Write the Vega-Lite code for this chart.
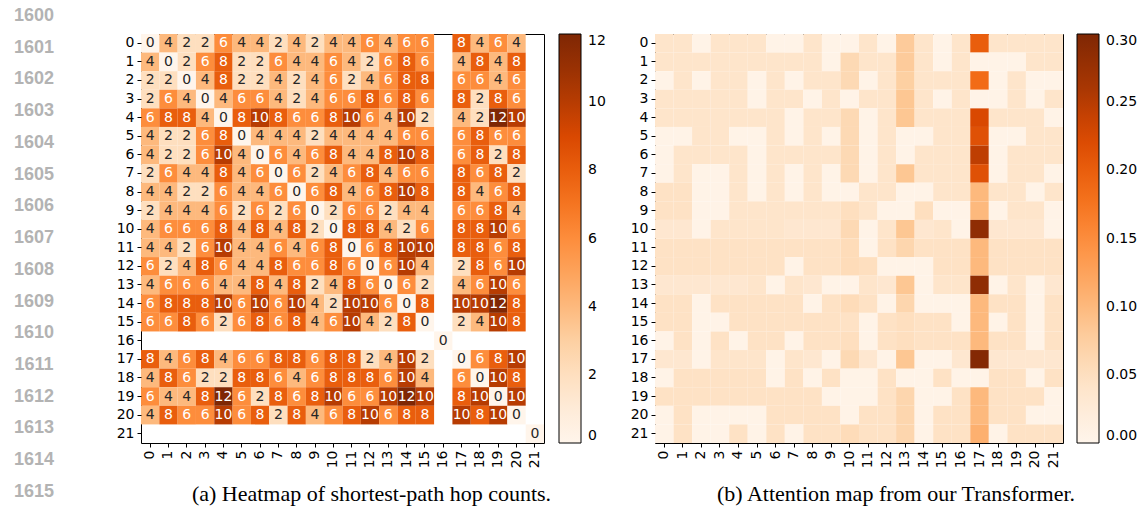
{
"$schema": "https://vega.github.io/schema/vega-lite/v6.json",
"background": "white",
"padding": {"left": 13, "top": 7, "right": 6, "bottom": 4},
"autosize": {"type": "pad"},
"config": {
  "font": "DejaVu Sans",
  "view": {"stroke": "black", "strokeWidth": 1},
  "axis": {"domain": false, "grid": false, "ticks": true, "tickColor": "black", "tickSize": 4, "labelFontSize": 14, "labelColor": "black", "labelFont": "DejaVu Sans", "labelPadding": 3, "title": null}
},
"spacing": 111,
"bounds": "flush",
"resolve": {"scale": {"color": "independent"}},
"datasets": {
"lines": [{"n":1600,"p":1.5},{"n":1601,"p":1.5},{"n":1602,"p":1.5},{"n":1603,"p":1.5},{"n":1604,"p":1.5},{"n":1605,"p":1.5},{"n":1606,"p":1.5},{"n":1607,"p":1.5},{"n":1608,"p":1.5},{"n":1609,"p":1.5},{"n":1610,"p":1.5},{"n":1611,"p":1.5},{"n":1612,"p":1.5},{"n":1613,"p":1.5},{"n":1614,"p":1.5},{"n":1615,"p":1.5}],
"hop": [
{"r":0,"c":0,"v":0},{"r":0,"c":1,"v":4},{"r":0,"c":2,"v":2},{"r":0,"c":3,"v":2},{"r":0,"c":4,"v":6},{"r":0,"c":5,"v":4},{"r":0,"c":6,"v":4},{"r":0,"c":7,"v":2},{"r":0,"c":8,"v":4},{"r":0,"c":9,"v":2},{"r":0,"c":10,"v":4},{"r":0,"c":11,"v":4},{"r":0,"c":12,"v":6},{"r":0,"c":13,"v":4},{"r":0,"c":14,"v":6},{"r":0,"c":15,"v":6},{"r":0,"c":17,"v":8},{"r":0,"c":18,"v":4},{"r":0,"c":19,"v":6},{"r":0,"c":20,"v":4},
{"r":1,"c":0,"v":4},{"r":1,"c":1,"v":0},{"r":1,"c":2,"v":2},{"r":1,"c":3,"v":6},{"r":1,"c":4,"v":8},{"r":1,"c":5,"v":2},{"r":1,"c":6,"v":2},{"r":1,"c":7,"v":6},{"r":1,"c":8,"v":4},{"r":1,"c":9,"v":4},{"r":1,"c":10,"v":6},{"r":1,"c":11,"v":4},{"r":1,"c":12,"v":2},{"r":1,"c":13,"v":6},{"r":1,"c":14,"v":8},{"r":1,"c":15,"v":6},{"r":1,"c":17,"v":4},{"r":1,"c":18,"v":8},{"r":1,"c":19,"v":4},{"r":1,"c":20,"v":8},
{"r":2,"c":0,"v":2},{"r":2,"c":1,"v":2},{"r":2,"c":2,"v":0},{"r":2,"c":3,"v":4},{"r":2,"c":4,"v":8},{"r":2,"c":5,"v":2},{"r":2,"c":6,"v":2},{"r":2,"c":7,"v":4},{"r":2,"c":8,"v":2},{"r":2,"c":9,"v":4},{"r":2,"c":10,"v":6},{"r":2,"c":11,"v":2},{"r":2,"c":12,"v":4},{"r":2,"c":13,"v":6},{"r":2,"c":14,"v":8},{"r":2,"c":15,"v":8},{"r":2,"c":17,"v":6},{"r":2,"c":18,"v":6},{"r":2,"c":19,"v":4},{"r":2,"c":20,"v":6},
{"r":3,"c":0,"v":2},{"r":3,"c":1,"v":6},{"r":3,"c":2,"v":4},{"r":3,"c":3,"v":0},{"r":3,"c":4,"v":4},{"r":3,"c":5,"v":6},{"r":3,"c":6,"v":6},{"r":3,"c":7,"v":4},{"r":3,"c":8,"v":2},{"r":3,"c":9,"v":4},{"r":3,"c":10,"v":6},{"r":3,"c":11,"v":6},{"r":3,"c":12,"v":8},{"r":3,"c":13,"v":6},{"r":3,"c":14,"v":8},{"r":3,"c":15,"v":6},{"r":3,"c":17,"v":8},{"r":3,"c":18,"v":2},{"r":3,"c":19,"v":8},{"r":3,"c":20,"v":6},
{"r":4,"c":0,"v":6},{"r":4,"c":1,"v":8},{"r":4,"c":2,"v":8},{"r":4,"c":3,"v":4},{"r":4,"c":4,"v":0},{"r":4,"c":5,"v":8},{"r":4,"c":6,"v":10},{"r":4,"c":7,"v":8},{"r":4,"c":8,"v":6},{"r":4,"c":9,"v":6},{"r":4,"c":10,"v":8},{"r":4,"c":11,"v":10},{"r":4,"c":12,"v":6},{"r":4,"c":13,"v":4},{"r":4,"c":14,"v":10},{"r":4,"c":15,"v":2},{"r":4,"c":17,"v":4},{"r":4,"c":18,"v":2},{"r":4,"c":19,"v":12},{"r":4,"c":20,"v":10},
{"r":5,"c":0,"v":4},{"r":5,"c":1,"v":2},{"r":5,"c":2,"v":2},{"r":5,"c":3,"v":6},{"r":5,"c":4,"v":8},{"r":5,"c":5,"v":0},{"r":5,"c":6,"v":4},{"r":5,"c":7,"v":4},{"r":5,"c":8,"v":4},{"r":5,"c":9,"v":2},{"r":5,"c":10,"v":4},{"r":5,"c":11,"v":4},{"r":5,"c":12,"v":4},{"r":5,"c":13,"v":4},{"r":5,"c":14,"v":6},{"r":5,"c":15,"v":6},{"r":5,"c":17,"v":6},{"r":5,"c":18,"v":8},{"r":5,"c":19,"v":6},{"r":5,"c":20,"v":6},
{"r":6,"c":0,"v":4},{"r":6,"c":1,"v":2},{"r":6,"c":2,"v":2},{"r":6,"c":3,"v":6},{"r":6,"c":4,"v":10},{"r":6,"c":5,"v":4},{"r":6,"c":6,"v":0},{"r":6,"c":7,"v":6},{"r":6,"c":8,"v":4},{"r":6,"c":9,"v":6},{"r":6,"c":10,"v":8},{"r":6,"c":11,"v":4},{"r":6,"c":12,"v":4},{"r":6,"c":13,"v":8},{"r":6,"c":14,"v":10},{"r":6,"c":15,"v":8},{"r":6,"c":17,"v":6},{"r":6,"c":18,"v":8},{"r":6,"c":19,"v":2},{"r":6,"c":20,"v":8},
{"r":7,"c":0,"v":2},{"r":7,"c":1,"v":6},{"r":7,"c":2,"v":4},{"r":7,"c":3,"v":4},{"r":7,"c":4,"v":8},{"r":7,"c":5,"v":4},{"r":7,"c":6,"v":6},{"r":7,"c":7,"v":0},{"r":7,"c":8,"v":6},{"r":7,"c":9,"v":2},{"r":7,"c":10,"v":4},{"r":7,"c":11,"v":6},{"r":7,"c":12,"v":8},{"r":7,"c":13,"v":4},{"r":7,"c":14,"v":6},{"r":7,"c":15,"v":6},{"r":7,"c":17,"v":8},{"r":7,"c":18,"v":6},{"r":7,"c":19,"v":8},{"r":7,"c":20,"v":2},
{"r":8,"c":0,"v":4},{"r":8,"c":1,"v":4},{"r":8,"c":2,"v":2},{"r":8,"c":3,"v":2},{"r":8,"c":4,"v":6},{"r":8,"c":5,"v":4},{"r":8,"c":6,"v":4},{"r":8,"c":7,"v":6},{"r":8,"c":8,"v":0},{"r":8,"c":9,"v":6},{"r":8,"c":10,"v":8},{"r":8,"c":11,"v":4},{"r":8,"c":12,"v":6},{"r":8,"c":13,"v":8},{"r":8,"c":14,"v":10},{"r":8,"c":15,"v":8},{"r":8,"c":17,"v":8},{"r":8,"c":18,"v":4},{"r":8,"c":19,"v":6},{"r":8,"c":20,"v":8},
{"r":9,"c":0,"v":2},{"r":9,"c":1,"v":4},{"r":9,"c":2,"v":4},{"r":9,"c":3,"v":4},{"r":9,"c":4,"v":6},{"r":9,"c":5,"v":2},{"r":9,"c":6,"v":6},{"r":9,"c":7,"v":2},{"r":9,"c":8,"v":6},{"r":9,"c":9,"v":0},{"r":9,"c":10,"v":2},{"r":9,"c":11,"v":6},{"r":9,"c":12,"v":6},{"r":9,"c":13,"v":2},{"r":9,"c":14,"v":4},{"r":9,"c":15,"v":4},{"r":9,"c":17,"v":6},{"r":9,"c":18,"v":6},{"r":9,"c":19,"v":8},{"r":9,"c":20,"v":4},
{"r":10,"c":0,"v":4},{"r":10,"c":1,"v":6},{"r":10,"c":2,"v":6},{"r":10,"c":3,"v":6},{"r":10,"c":4,"v":8},{"r":10,"c":5,"v":4},{"r":10,"c":6,"v":8},{"r":10,"c":7,"v":4},{"r":10,"c":8,"v":8},{"r":10,"c":9,"v":2},{"r":10,"c":10,"v":0},{"r":10,"c":11,"v":8},{"r":10,"c":12,"v":8},{"r":10,"c":13,"v":4},{"r":10,"c":14,"v":2},{"r":10,"c":15,"v":6},{"r":10,"c":17,"v":8},{"r":10,"c":18,"v":8},{"r":10,"c":19,"v":10},{"r":10,"c":20,"v":6},
{"r":11,"c":0,"v":4},{"r":11,"c":1,"v":4},{"r":11,"c":2,"v":2},{"r":11,"c":3,"v":6},{"r":11,"c":4,"v":10},{"r":11,"c":5,"v":4},{"r":11,"c":6,"v":4},{"r":11,"c":7,"v":6},{"r":11,"c":8,"v":4},{"r":11,"c":9,"v":6},{"r":11,"c":10,"v":8},{"r":11,"c":11,"v":0},{"r":11,"c":12,"v":6},{"r":11,"c":13,"v":8},{"r":11,"c":14,"v":10},{"r":11,"c":15,"v":10},{"r":11,"c":17,"v":8},{"r":11,"c":18,"v":8},{"r":11,"c":19,"v":6},{"r":11,"c":20,"v":8},
{"r":12,"c":0,"v":6},{"r":12,"c":1,"v":2},{"r":12,"c":2,"v":4},{"r":12,"c":3,"v":8},{"r":12,"c":4,"v":6},{"r":12,"c":5,"v":4},{"r":12,"c":6,"v":4},{"r":12,"c":7,"v":8},{"r":12,"c":8,"v":6},{"r":12,"c":9,"v":6},{"r":12,"c":10,"v":8},{"r":12,"c":11,"v":6},{"r":12,"c":12,"v":0},{"r":12,"c":13,"v":6},{"r":12,"c":14,"v":10},{"r":12,"c":15,"v":4},{"r":12,"c":17,"v":2},{"r":12,"c":18,"v":8},{"r":12,"c":19,"v":6},{"r":12,"c":20,"v":10},
{"r":13,"c":0,"v":4},{"r":13,"c":1,"v":6},{"r":13,"c":2,"v":6},{"r":13,"c":3,"v":6},{"r":13,"c":4,"v":4},{"r":13,"c":5,"v":4},{"r":13,"c":6,"v":8},{"r":13,"c":7,"v":4},{"r":13,"c":8,"v":8},{"r":13,"c":9,"v":2},{"r":13,"c":10,"v":4},{"r":13,"c":11,"v":8},{"r":13,"c":12,"v":6},{"r":13,"c":13,"v":0},{"r":13,"c":14,"v":6},{"r":13,"c":15,"v":2},{"r":13,"c":17,"v":4},{"r":13,"c":18,"v":6},{"r":13,"c":19,"v":10},{"r":13,"c":20,"v":6},
{"r":14,"c":0,"v":6},{"r":14,"c":1,"v":8},{"r":14,"c":2,"v":8},{"r":14,"c":3,"v":8},{"r":14,"c":4,"v":10},{"r":14,"c":5,"v":6},{"r":14,"c":6,"v":10},{"r":14,"c":7,"v":6},{"r":14,"c":8,"v":10},{"r":14,"c":9,"v":4},{"r":14,"c":10,"v":2},{"r":14,"c":11,"v":10},{"r":14,"c":12,"v":10},{"r":14,"c":13,"v":6},{"r":14,"c":14,"v":0},{"r":14,"c":15,"v":8},{"r":14,"c":17,"v":10},{"r":14,"c":18,"v":10},{"r":14,"c":19,"v":12},{"r":14,"c":20,"v":8},
{"r":15,"c":0,"v":6},{"r":15,"c":1,"v":6},{"r":15,"c":2,"v":8},{"r":15,"c":3,"v":6},{"r":15,"c":4,"v":2},{"r":15,"c":5,"v":6},{"r":15,"c":6,"v":8},{"r":15,"c":7,"v":6},{"r":15,"c":8,"v":8},{"r":15,"c":9,"v":4},{"r":15,"c":10,"v":6},{"r":15,"c":11,"v":10},{"r":15,"c":12,"v":4},{"r":15,"c":13,"v":2},{"r":15,"c":14,"v":8},{"r":15,"c":15,"v":0},{"r":15,"c":17,"v":2},{"r":15,"c":18,"v":4},{"r":15,"c":19,"v":10},{"r":15,"c":20,"v":8},
{"r":16,"c":16,"v":0},
{"r":17,"c":0,"v":8},{"r":17,"c":1,"v":4},{"r":17,"c":2,"v":6},{"r":17,"c":3,"v":8},{"r":17,"c":4,"v":4},{"r":17,"c":5,"v":6},{"r":17,"c":6,"v":6},{"r":17,"c":7,"v":8},{"r":17,"c":8,"v":8},{"r":17,"c":9,"v":6},{"r":17,"c":10,"v":8},{"r":17,"c":11,"v":8},{"r":17,"c":12,"v":2},{"r":17,"c":13,"v":4},{"r":17,"c":14,"v":10},{"r":17,"c":15,"v":2},{"r":17,"c":17,"v":0},{"r":17,"c":18,"v":6},{"r":17,"c":19,"v":8},{"r":17,"c":20,"v":10},
{"r":18,"c":0,"v":4},{"r":18,"c":1,"v":8},{"r":18,"c":2,"v":6},{"r":18,"c":3,"v":2},{"r":18,"c":4,"v":2},{"r":18,"c":5,"v":8},{"r":18,"c":6,"v":8},{"r":18,"c":7,"v":6},{"r":18,"c":8,"v":4},{"r":18,"c":9,"v":6},{"r":18,"c":10,"v":8},{"r":18,"c":11,"v":8},{"r":18,"c":12,"v":8},{"r":18,"c":13,"v":6},{"r":18,"c":14,"v":10},{"r":18,"c":15,"v":4},{"r":18,"c":17,"v":6},{"r":18,"c":18,"v":0},{"r":18,"c":19,"v":10},{"r":18,"c":20,"v":8},
{"r":19,"c":0,"v":6},{"r":19,"c":1,"v":4},{"r":19,"c":2,"v":4},{"r":19,"c":3,"v":8},{"r":19,"c":4,"v":12},{"r":19,"c":5,"v":6},{"r":19,"c":6,"v":2},{"r":19,"c":7,"v":8},{"r":19,"c":8,"v":6},{"r":19,"c":9,"v":8},{"r":19,"c":10,"v":10},{"r":19,"c":11,"v":6},{"r":19,"c":12,"v":6},{"r":19,"c":13,"v":10},{"r":19,"c":14,"v":12},{"r":19,"c":15,"v":10},{"r":19,"c":17,"v":8},{"r":19,"c":18,"v":10},{"r":19,"c":19,"v":0},{"r":19,"c":20,"v":10},
{"r":20,"c":0,"v":4},{"r":20,"c":1,"v":8},{"r":20,"c":2,"v":6},{"r":20,"c":3,"v":6},{"r":20,"c":4,"v":10},{"r":20,"c":5,"v":6},{"r":20,"c":6,"v":8},{"r":20,"c":7,"v":2},{"r":20,"c":8,"v":8},{"r":20,"c":9,"v":4},{"r":20,"c":10,"v":6},{"r":20,"c":11,"v":8},{"r":20,"c":12,"v":10},{"r":20,"c":13,"v":6},{"r":20,"c":14,"v":8},{"r":20,"c":15,"v":8},{"r":20,"c":17,"v":10},{"r":20,"c":18,"v":8},{"r":20,"c":19,"v":10},{"r":20,"c":20,"v":0},
{"r":21,"c":21,"v":0}
],
"att": [
{"r":0,"c":0,"a":0.04},{"r":0,"c":1,"a":0.04},{"r":0,"c":2,"a":0.005},{"r":0,"c":3,"a":0.04},{"r":0,"c":4,"a":0.04},{"r":0,"c":5,"a":0.04},{"r":0,"c":6,"a":0.005},{"r":0,"c":7,"a":0.005},{"r":0,"c":8,"a":0.04},{"r":0,"c":9,"a":0.005},{"r":0,"c":10,"a":0.005},{"r":0,"c":11,"a":0.04},{"r":0,"c":12,"a":0.005},{"r":0,"c":13,"a":0.08},{"r":0,"c":14,"a":0.04},{"r":0,"c":15,"a":0.005},{"r":0,"c":16,"a":0.04},{"r":0,"c":17,"a":0.2},{"r":0,"c":18,"a":0.04},{"r":0,"c":19,"a":0.04},{"r":0,"c":20,"a":0.04},{"r":0,"c":21,"a":0.04},
{"r":1,"c":0,"a":0.04},{"r":1,"c":1,"a":0.04},{"r":1,"c":2,"a":0.04},{"r":1,"c":3,"a":0.04},{"r":1,"c":4,"a":0.04},{"r":1,"c":5,"a":0.04},{"r":1,"c":6,"a":0.04},{"r":1,"c":7,"a":0.04},{"r":1,"c":8,"a":0.04},{"r":1,"c":9,"a":0.005},{"r":1,"c":10,"a":0.06},{"r":1,"c":11,"a":0.04},{"r":1,"c":12,"a":0.04},{"r":1,"c":13,"a":0.08},{"r":1,"c":14,"a":0.04},{"r":1,"c":15,"a":0.005},{"r":1,"c":16,"a":0.04},{"r":1,"c":17,"a":0.005},{"r":1,"c":18,"a":0.005},{"r":1,"c":19,"a":0.005},{"r":1,"c":20,"a":0.04},{"r":1,"c":21,"a":0.04},
{"r":2,"c":0,"a":0.005},{"r":2,"c":1,"a":0.04},{"r":2,"c":2,"a":0.005},{"r":2,"c":3,"a":0.04},{"r":2,"c":4,"a":0.04},{"r":2,"c":5,"a":0.005},{"r":2,"c":6,"a":0.04},{"r":2,"c":7,"a":0.005},{"r":2,"c":8,"a":0.04},{"r":2,"c":9,"a":0.04},{"r":2,"c":10,"a":0.06},{"r":2,"c":11,"a":0.005},{"r":2,"c":12,"a":0.04},{"r":2,"c":13,"a":0.075},{"r":2,"c":14,"a":0.04},{"r":2,"c":15,"a":0.04},{"r":2,"c":16,"a":0.04},{"r":2,"c":17,"a":0.185},{"r":2,"c":18,"a":0.005},{"r":2,"c":19,"a":0.04},{"r":2,"c":20,"a":0.005},{"r":2,"c":21,"a":0.005},
{"r":3,"c":0,"a":0.04},{"r":3,"c":1,"a":0.04},{"r":3,"c":2,"a":0.04},{"r":3,"c":3,"a":0.04},{"r":3,"c":4,"a":0.04},{"r":3,"c":5,"a":0.005},{"r":3,"c":6,"a":0.04},{"r":3,"c":7,"a":0.04},{"r":3,"c":8,"a":0.005},{"r":3,"c":9,"a":0.04},{"r":3,"c":10,"a":0.005},{"r":3,"c":11,"a":0.04},{"r":3,"c":12,"a":0.04},{"r":3,"c":13,"a":0.085},{"r":3,"c":14,"a":0.04},{"r":3,"c":15,"a":0.005},{"r":3,"c":16,"a":0.04},{"r":3,"c":17,"a":0.005},{"r":3,"c":18,"a":0.005},{"r":3,"c":19,"a":0.04},{"r":3,"c":20,"a":0.005},{"r":3,"c":21,"a":0.04},
{"r":4,"c":0,"a":0.04},{"r":4,"c":1,"a":0.04},{"r":4,"c":2,"a":0.04},{"r":4,"c":3,"a":0.04},{"r":4,"c":4,"a":0.04},{"r":4,"c":5,"a":0.04},{"r":4,"c":6,"a":0.04},{"r":4,"c":7,"a":0.005},{"r":4,"c":8,"a":0.04},{"r":4,"c":9,"a":0.04},{"r":4,"c":10,"a":0.06},{"r":4,"c":11,"a":0.005},{"r":4,"c":12,"a":0.04},{"r":4,"c":13,"a":0.085},{"r":4,"c":14,"a":0.04},{"r":4,"c":15,"a":0.04},{"r":4,"c":16,"a":0.04},{"r":4,"c":17,"a":0.225},{"r":4,"c":18,"a":0.04},{"r":4,"c":19,"a":0.04},{"r":4,"c":20,"a":0.04},{"r":4,"c":21,"a":0.005},
{"r":5,"c":0,"a":0.005},{"r":5,"c":1,"a":0.005},{"r":5,"c":2,"a":0.04},{"r":5,"c":3,"a":0.04},{"r":5,"c":4,"a":0.005},{"r":5,"c":5,"a":0.005},{"r":5,"c":6,"a":0.04},{"r":5,"c":7,"a":0.005},{"r":5,"c":8,"a":0.04},{"r":5,"c":9,"a":0.005},{"r":5,"c":10,"a":0.06},{"r":5,"c":11,"a":0.005},{"r":5,"c":12,"a":0.04},{"r":5,"c":13,"a":0.005},{"r":5,"c":14,"a":0.005},{"r":5,"c":15,"a":0.04},{"r":5,"c":16,"a":0.04},{"r":5,"c":17,"a":0.215},{"r":5,"c":18,"a":0.005},{"r":5,"c":19,"a":0.005},{"r":5,"c":20,"a":0.04},{"r":5,"c":21,"a":0.04},
{"r":6,"c":0,"a":0.005},{"r":6,"c":1,"a":0.04},{"r":6,"c":2,"a":0.04},{"r":6,"c":3,"a":0.04},{"r":6,"c":4,"a":0.04},{"r":6,"c":5,"a":0.005},{"r":6,"c":6,"a":0.04},{"r":6,"c":7,"a":0.04},{"r":6,"c":8,"a":0.04},{"r":6,"c":9,"a":0.04},{"r":6,"c":10,"a":0.06},{"r":6,"c":11,"a":0.005},{"r":6,"c":12,"a":0.04},{"r":6,"c":13,"a":0.005},{"r":6,"c":14,"a":0.04},{"r":6,"c":15,"a":0.04},{"r":6,"c":16,"a":0.04},{"r":6,"c":17,"a":0.245},{"r":6,"c":18,"a":0.005},{"r":6,"c":19,"a":0.04},{"r":6,"c":20,"a":0.04},{"r":6,"c":21,"a":0.04},
{"r":7,"c":0,"a":0.005},{"r":7,"c":1,"a":0.04},{"r":7,"c":2,"a":0.005},{"r":7,"c":3,"a":0.005},{"r":7,"c":4,"a":0.04},{"r":7,"c":5,"a":0.005},{"r":7,"c":6,"a":0.04},{"r":7,"c":7,"a":0.005},{"r":7,"c":8,"a":0.04},{"r":7,"c":9,"a":0.005},{"r":7,"c":10,"a":0.06},{"r":7,"c":11,"a":0.005},{"r":7,"c":12,"a":0.04},{"r":7,"c":13,"a":0.085},{"r":7,"c":14,"a":0.04},{"r":7,"c":15,"a":0.04},{"r":7,"c":16,"a":0.04},{"r":7,"c":17,"a":0.215},{"r":7,"c":18,"a":0.005},{"r":7,"c":19,"a":0.04},{"r":7,"c":20,"a":0.04},{"r":7,"c":21,"a":0.005},
{"r":8,"c":0,"a":0.045},{"r":8,"c":1,"a":0.045},{"r":8,"c":2,"a":0.005},{"r":8,"c":3,"a":0.005},{"r":8,"c":4,"a":0.04},{"r":8,"c":5,"a":0.005},{"r":8,"c":6,"a":0.04},{"r":8,"c":7,"a":0.005},{"r":8,"c":8,"a":0.04},{"r":8,"c":9,"a":0.005},{"r":8,"c":10,"a":0.005},{"r":8,"c":11,"a":0.04},{"r":8,"c":12,"a":0.04},{"r":8,"c":13,"a":0.005},{"r":8,"c":14,"a":0.005},{"r":8,"c":15,"a":0.04},{"r":8,"c":16,"a":0.04},{"r":8,"c":17,"a":0.1},{"r":8,"c":18,"a":0.04},{"r":8,"c":19,"a":0.04},{"r":8,"c":20,"a":0.005},{"r":8,"c":21,"a":0.04},
{"r":9,"c":0,"a":0.045},{"r":9,"c":1,"a":0.045},{"r":9,"c":2,"a":0.005},{"r":9,"c":3,"a":0.005},{"r":9,"c":4,"a":0.04},{"r":9,"c":5,"a":0.04},{"r":9,"c":6,"a":0.04},{"r":9,"c":7,"a":0.04},{"r":9,"c":8,"a":0.04},{"r":9,"c":9,"a":0.04},{"r":9,"c":10,"a":0.05},{"r":9,"c":11,"a":0.04},{"r":9,"c":12,"a":0.005},{"r":9,"c":13,"a":0.005},{"r":9,"c":14,"a":0.05},{"r":9,"c":15,"a":0.005},{"r":9,"c":16,"a":0.005},{"r":9,"c":17,"a":0.1},{"r":9,"c":18,"a":0.005},{"r":9,"c":19,"a":0.04},{"r":9,"c":20,"a":0.04},{"r":9,"c":21,"a":0.005},
{"r":10,"c":0,"a":0.035},{"r":10,"c":1,"a":0.035},{"r":10,"c":2,"a":0.005},{"r":10,"c":3,"a":0.04},{"r":10,"c":4,"a":0.04},{"r":10,"c":5,"a":0.04},{"r":10,"c":6,"a":0.04},{"r":10,"c":7,"a":0.035},{"r":10,"c":8,"a":0.035},{"r":10,"c":9,"a":0.035},{"r":10,"c":10,"a":0.06},{"r":10,"c":11,"a":0.005},{"r":10,"c":12,"a":0.04},{"r":10,"c":13,"a":0.085},{"r":10,"c":14,"a":0.035},{"r":10,"c":15,"a":0.04},{"r":10,"c":16,"a":0.005},{"r":10,"c":17,"a":0.285},{"r":10,"c":18,"a":0.035},{"r":10,"c":19,"a":0.035},{"r":10,"c":20,"a":0.035},{"r":10,"c":21,"a":0.005},
{"r":11,"c":0,"a":0.045},{"r":11,"c":1,"a":0.045},{"r":11,"c":2,"a":0.045},{"r":11,"c":3,"a":0.045},{"r":11,"c":4,"a":0.045},{"r":11,"c":5,"a":0.045},{"r":11,"c":6,"a":0.045},{"r":11,"c":7,"a":0.045},{"r":11,"c":8,"a":0.045},{"r":11,"c":9,"a":0.045},{"r":11,"c":10,"a":0.055},{"r":11,"c":11,"a":0.005},{"r":11,"c":12,"a":0.045},{"r":11,"c":13,"a":0.065},{"r":11,"c":14,"a":0.045},{"r":11,"c":15,"a":0.045},{"r":11,"c":16,"a":0.045},{"r":11,"c":17,"a":0.1},{"r":11,"c":18,"a":0.045},{"r":11,"c":19,"a":0.045},{"r":11,"c":20,"a":0.045},{"r":11,"c":21,"a":0.045},
{"r":12,"c":0,"a":0.045},{"r":12,"c":1,"a":0.045},{"r":12,"c":2,"a":0.045},{"r":12,"c":3,"a":0.045},{"r":12,"c":4,"a":0.045},{"r":12,"c":5,"a":0.045},{"r":12,"c":6,"a":0.045},{"r":12,"c":7,"a":0.005},{"r":12,"c":8,"a":0.045},{"r":12,"c":9,"a":0.045},{"r":12,"c":10,"a":0.055},{"r":12,"c":11,"a":0.05},{"r":12,"c":12,"a":0.005},{"r":12,"c":13,"a":0.005},{"r":12,"c":14,"a":0.005},{"r":12,"c":15,"a":0.045},{"r":12,"c":16,"a":0.045},{"r":12,"c":17,"a":0.1},{"r":12,"c":18,"a":0.045},{"r":12,"c":19,"a":0.045},{"r":12,"c":20,"a":0.045},{"r":12,"c":21,"a":0.045},
{"r":13,"c":0,"a":0.035},{"r":13,"c":1,"a":0.035},{"r":13,"c":2,"a":0.035},{"r":13,"c":3,"a":0.035},{"r":13,"c":4,"a":0.035},{"r":13,"c":5,"a":0.04},{"r":13,"c":6,"a":0.005},{"r":13,"c":7,"a":0.04},{"r":13,"c":8,"a":0.035},{"r":13,"c":9,"a":0.005},{"r":13,"c":10,"a":0.005},{"r":13,"c":11,"a":0.04},{"r":13,"c":12,"a":0.035},{"r":13,"c":13,"a":0.085},{"r":13,"c":14,"a":0.005},{"r":13,"c":15,"a":0.04},{"r":13,"c":16,"a":0.04},{"r":13,"c":17,"a":0.285},{"r":13,"c":18,"a":0.005},{"r":13,"c":19,"a":0.04},{"r":13,"c":20,"a":0.005},{"r":13,"c":21,"a":0.035},
{"r":14,"c":0,"a":0.045},{"r":14,"c":1,"a":0.045},{"r":14,"c":2,"a":0.005},{"r":14,"c":3,"a":0.045},{"r":14,"c":4,"a":0.045},{"r":14,"c":5,"a":0.045},{"r":14,"c":6,"a":0.045},{"r":14,"c":7,"a":0.045},{"r":14,"c":8,"a":0.005},{"r":14,"c":9,"a":0.045},{"r":14,"c":10,"a":0.055},{"r":14,"c":11,"a":0.045},{"r":14,"c":12,"a":0.005},{"r":14,"c":13,"a":0.065},{"r":14,"c":14,"a":0.005},{"r":14,"c":15,"a":0.005},{"r":14,"c":16,"a":0.005},{"r":14,"c":17,"a":0.1},{"r":14,"c":18,"a":0.045},{"r":14,"c":19,"a":0.045},{"r":14,"c":20,"a":0.005},{"r":14,"c":21,"a":0.045},
{"r":15,"c":0,"a":0.045},{"r":15,"c":1,"a":0.045},{"r":15,"c":2,"a":0.005},{"r":15,"c":3,"a":0.005},{"r":15,"c":4,"a":0.045},{"r":15,"c":5,"a":0.045},{"r":15,"c":6,"a":0.045},{"r":15,"c":7,"a":0.045},{"r":15,"c":8,"a":0.045},{"r":15,"c":9,"a":0.045},{"r":15,"c":10,"a":0.045},{"r":15,"c":11,"a":0.005},{"r":15,"c":12,"a":0.045},{"r":15,"c":13,"a":0.05},{"r":15,"c":14,"a":0.045},{"r":15,"c":15,"a":0.045},{"r":15,"c":16,"a":0.005},{"r":15,"c":17,"a":0.1},{"r":15,"c":18,"a":0.005},{"r":15,"c":19,"a":0.045},{"r":15,"c":20,"a":0.005},{"r":15,"c":21,"a":0.045},
{"r":16,"c":0,"a":0.005},{"r":16,"c":1,"a":0.045},{"r":16,"c":2,"a":0.005},{"r":16,"c":3,"a":0.045},{"r":16,"c":4,"a":0.005},{"r":16,"c":5,"a":0.045},{"r":16,"c":6,"a":0.045},{"r":16,"c":7,"a":0.005},{"r":16,"c":8,"a":0.045},{"r":16,"c":9,"a":0.045},{"r":16,"c":10,"a":0.05},{"r":16,"c":11,"a":0.005},{"r":16,"c":12,"a":0.045},{"r":16,"c":13,"a":0.05},{"r":16,"c":14,"a":0.045},{"r":16,"c":15,"a":0.045},{"r":16,"c":16,"a":0.045},{"r":16,"c":17,"a":0.1},{"r":16,"c":18,"a":0.045},{"r":16,"c":19,"a":0.045},{"r":16,"c":20,"a":0.005},{"r":16,"c":21,"a":0.045},
{"r":17,"c":0,"a":0.035},{"r":17,"c":1,"a":0.035},{"r":17,"c":2,"a":0.005},{"r":17,"c":3,"a":0.04},{"r":17,"c":4,"a":0.04},{"r":17,"c":5,"a":0.04},{"r":17,"c":6,"a":0.005},{"r":17,"c":7,"a":0.04},{"r":17,"c":8,"a":0.035},{"r":17,"c":9,"a":0.005},{"r":17,"c":10,"a":0.06},{"r":17,"c":11,"a":0.035},{"r":17,"c":12,"a":0.005},{"r":17,"c":13,"a":0.085},{"r":17,"c":14,"a":0.005},{"r":17,"c":15,"a":0.005},{"r":17,"c":16,"a":0.035},{"r":17,"c":17,"a":0.295},{"r":17,"c":18,"a":0.035},{"r":17,"c":19,"a":0.035},{"r":17,"c":20,"a":0.035},{"r":17,"c":21,"a":0.035},
{"r":18,"c":0,"a":0.005},{"r":18,"c":1,"a":0.045},{"r":18,"c":2,"a":0.045},{"r":18,"c":3,"a":0.045},{"r":18,"c":4,"a":0.045},{"r":18,"c":5,"a":0.045},{"r":18,"c":6,"a":0.005},{"r":18,"c":7,"a":0.045},{"r":18,"c":8,"a":0.005},{"r":18,"c":9,"a":0.045},{"r":18,"c":10,"a":0.005},{"r":18,"c":11,"a":0.005},{"r":18,"c":12,"a":0.045},{"r":18,"c":13,"a":0.005},{"r":18,"c":14,"a":0.005},{"r":18,"c":15,"a":0.045},{"r":18,"c":16,"a":0.005},{"r":18,"c":17,"a":0.005},{"r":18,"c":18,"a":0.045},{"r":18,"c":19,"a":0.045},{"r":18,"c":20,"a":0.005},{"r":18,"c":21,"a":0.045},
{"r":19,"c":0,"a":0.045},{"r":19,"c":1,"a":0.045},{"r":19,"c":2,"a":0.045},{"r":19,"c":3,"a":0.045},{"r":19,"c":4,"a":0.045},{"r":19,"c":5,"a":0.045},{"r":19,"c":6,"a":0.045},{"r":19,"c":7,"a":0.045},{"r":19,"c":8,"a":0.045},{"r":19,"c":9,"a":0.005},{"r":19,"c":10,"a":0.005},{"r":19,"c":11,"a":0.005},{"r":19,"c":12,"a":0.045},{"r":19,"c":13,"a":0.065},{"r":19,"c":14,"a":0.005},{"r":19,"c":15,"a":0.005},{"r":19,"c":16,"a":0.045},{"r":19,"c":17,"a":0.1},{"r":19,"c":18,"a":0.045},{"r":19,"c":19,"a":0.045},{"r":19,"c":20,"a":0.045},{"r":19,"c":21,"a":0.005},
{"r":20,"c":0,"a":0.005},{"r":20,"c":1,"a":0.045},{"r":20,"c":2,"a":0.005},{"r":20,"c":3,"a":0.005},{"r":20,"c":4,"a":0.005},{"r":20,"c":5,"a":0.005},{"r":20,"c":6,"a":0.045},{"r":20,"c":7,"a":0.045},{"r":20,"c":8,"a":0.045},{"r":20,"c":9,"a":0.045},{"r":20,"c":10,"a":0.005},{"r":20,"c":11,"a":0.045},{"r":20,"c":12,"a":0.045},{"r":20,"c":13,"a":0.065},{"r":20,"c":14,"a":0.005},{"r":20,"c":15,"a":0.045},{"r":20,"c":16,"a":0.045},{"r":20,"c":17,"a":0.1},{"r":20,"c":18,"a":0.045},{"r":20,"c":19,"a":0.045},{"r":20,"c":20,"a":0.005},{"r":20,"c":21,"a":0.005},
{"r":21,"c":0,"a":0.005},{"r":21,"c":1,"a":0.045},{"r":21,"c":2,"a":0.005},{"r":21,"c":3,"a":0.005},{"r":21,"c":4,"a":0.045},{"r":21,"c":5,"a":0.005},{"r":21,"c":6,"a":0.045},{"r":21,"c":7,"a":0.005},{"r":21,"c":8,"a":0.045},{"r":21,"c":9,"a":0.045},{"r":21,"c":10,"a":0.055},{"r":21,"c":11,"a":0.045},{"r":21,"c":12,"a":0.045},{"r":21,"c":13,"a":0.065},{"r":21,"c":14,"a":0.005},{"r":21,"c":15,"a":0.045},{"r":21,"c":16,"a":0.045},{"r":21,"c":17,"a":0.11},{"r":21,"c":18,"a":0.005},{"r":21,"c":19,"a":0.045},{"r":21,"c":20,"a":0.045},{"r":21,"c":21,"a":0.045}
]
},
"hconcat": [
{
  "width": 8,
  "height": 409,
  "view": {"stroke": null},
  "data": {"name": "lines"},
  "mark": {"type": "text", "font": "Liberation Sans", "fontWeight": "bold", "fontSize": 18, "color": "#b3b3b3", "align": "center", "baseline": "middle"},
  "encoding": {
    "x": {"field": "p", "type": "quantitative", "scale": {"domain": [0, 1], "zero": false, "nice": false}, "axis": null},
    "y": {"field": "n", "type": "quantitative", "scale": {"domain": [1600.567, 1613.457], "reverse": true, "zero": false, "nice": false}, "axis": null},
    "text": {"field": "n", "type": "nominal"}
  }
},
{
  "width": 403,
  "height": 409,
  "data": {"name": "hop"},
  "title": {"text": "(a) Heatmap of shortest-path hop counts.", "orient": "bottom", "font": "Liberation Serif", "fontSize": 22, "fontWeight": "normal", "color": "black", "offset": 16, "frame": "group", "anchor": "middle", "dx": 29},
  "encoding": {
    "x": {"field": "c", "type": "ordinal", "scale": {"domain": [0,1,2,3,4,5,6,7,8,9,10,11,12,13,14,15,16,17,18,19,20,21], "paddingInner": 0, "paddingOuter": 0}, "axis": {"labelAngle": -90, "title": null}},
    "y": {"field": "r", "type": "ordinal", "scale": {"domain": [0,1,2,3,4,5,6,7,8,9,10,11,12,13,14,15,16,17,18,19,20,21], "paddingInner": 0, "paddingOuter": 0}, "axis": {"title": null}}
  },
  "layer": [
    {
      "mark": {"type": "rect"},
      "encoding": {
        "color": {"field": "v", "type": "quantitative", "scale": {"type": "linear", "domain": [0, 12], "range": ["#fff5eb","#fee6ce","#fdd0a2","#fdae6b","#fd8d3c","#f16913","#d94801","#a63603","#7f2704"], "interpolate": "rgb"},
          "legend": {"title": null, "orient": "right", "offset": 15, "direction": "vertical", "gradientLength": 409, "gradientThickness": 22, "values": [0,2,4,6,8,10,12], "labelFontSize": 14, "labelFont": "DejaVu Sans", "labelColor": "black", "labelOffset": 7, "labelBaseline": "middle", "gradientStrokeColor": "black", "gradientStrokeWidth": 1}}
      }
    },
    {
      "mark": {"type": "text", "fontSize": 14, "font": "DejaVu Sans"},
      "encoding": {
        "text": {"field": "v", "type": "quantitative"},
        "color": {"condition": {"test": "datum.v >= 6", "value": "white"}, "value": "#262626"}
      }
    }
  ]
},
{
  "width": 408,
  "height": 409,
  "data": {"name": "att"},
  "title": {"text": "(b) Attention map from our Transformer.", "orient": "bottom", "font": "Liberation Serif", "fontSize": 22, "fontWeight": "normal", "color": "black", "offset": 16, "frame": "group", "anchor": "middle", "dx": 37},
  "mark": {"type": "rect"},
  "encoding": {
    "x": {"field": "c", "type": "ordinal", "scale": {"paddingInner": 0, "paddingOuter": 0}, "axis": {"labelAngle": -90, "title": null}},
    "y": {"field": "r", "type": "ordinal", "scale": {"paddingInner": 0, "paddingOuter": 0}, "axis": {"title": null}},
    "color": {"field": "a", "type": "quantitative", "scale": {"type": "linear", "domain": [0, 0.3], "range": ["#fff5eb","#fee6ce","#fdd0a2","#fdae6b","#fd8d3c","#f16913","#d94801","#a63603","#7f2704"], "interpolate": "rgb"},
      "legend": {"title": null, "orient": "right", "offset": 14, "direction": "vertical", "gradientLength": 409, "gradientThickness": 22, "values": [0,0.05,0.1,0.15,0.2,0.25,0.3], "format": ".2f", "labelFontSize": 14, "labelFont": "DejaVu Sans", "labelColor": "black", "labelOffset": 7, "labelBaseline": "middle", "gradientStrokeColor": "black", "gradientStrokeWidth": 1}}
  }
}
]
}
